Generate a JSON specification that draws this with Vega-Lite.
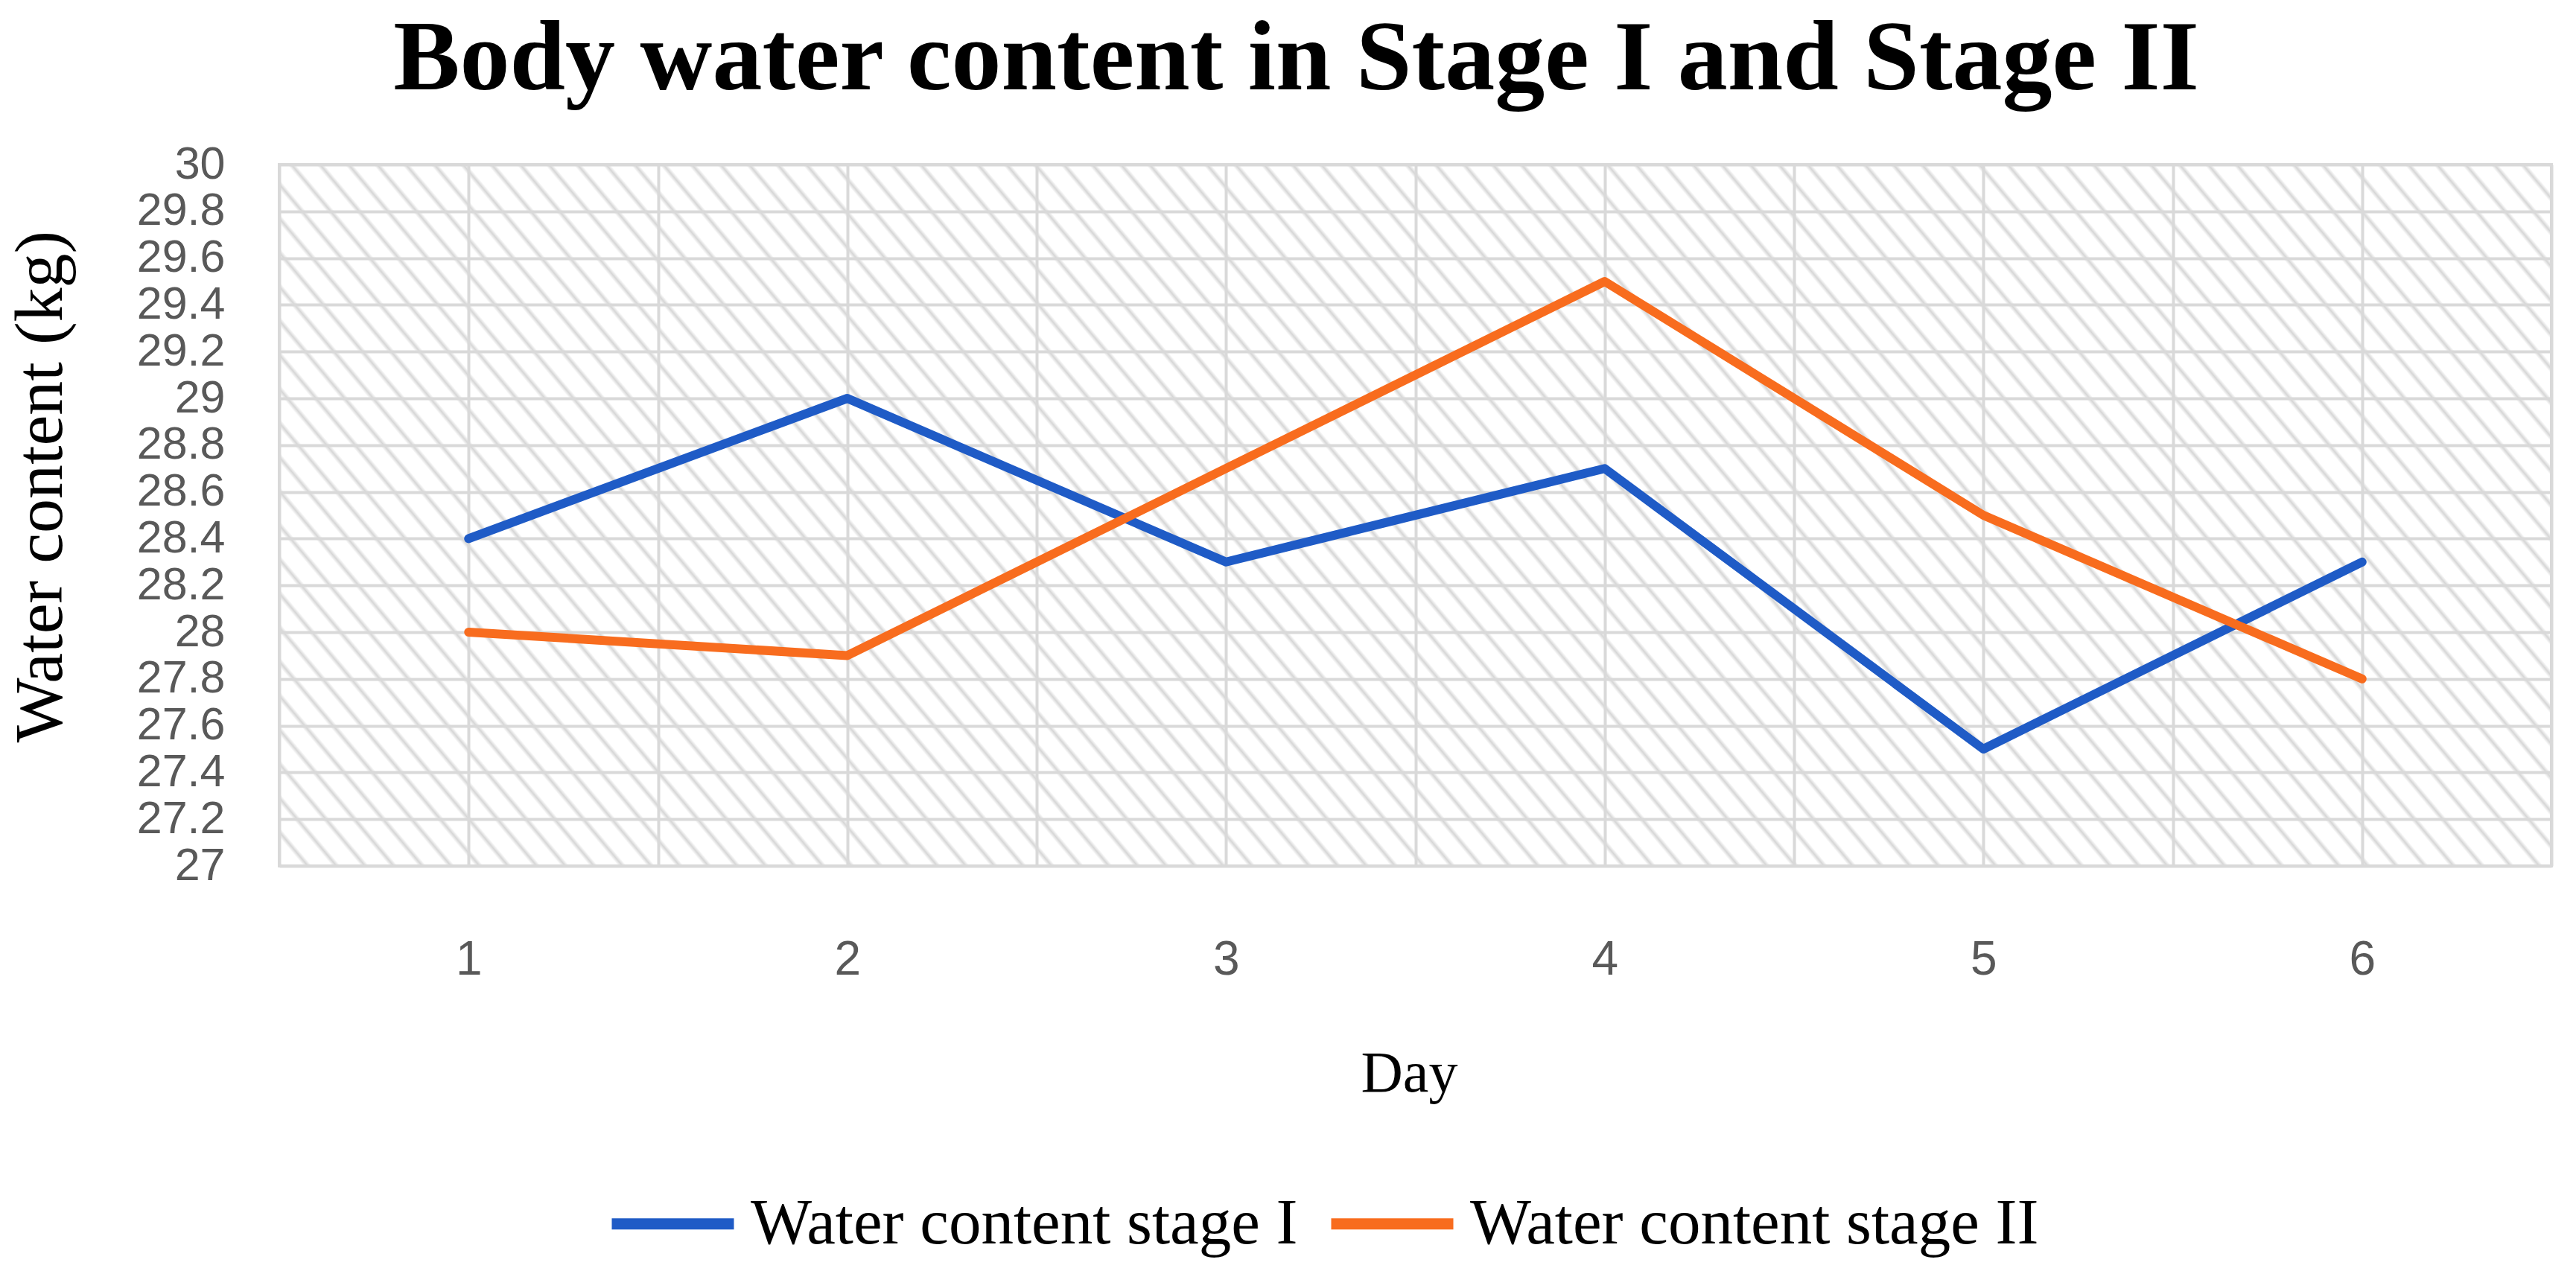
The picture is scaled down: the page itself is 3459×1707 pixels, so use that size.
{
  "$schema": "https://vega.github.io/schema/vega-lite/v6.json",
  "width": 3051,
  "height": 942,
  "autosize": {"type": "none"},
  "padding": {"left": 375, "top": 221, "right": 33, "bottom": 544},
  "background": "white",
  "title": {
    "text": "Body water content in Stage I and Stage II",
    "font": "Liberation Serif",
    "fontSize": 134,
    "fontWeight": "bold",
    "color": "black",
    "anchor": "middle",
    "frame": "group",
    "baseline": "alphabetic",
    "offset": -64,
    "dx": -160
  },
  "view": {
    "stroke": "#d9d9d9",
    "strokeWidth": 4,
    "fill": {
      "gradient": "linear",
      "x1": 0, "y1": 1, "x2": 1.17988, "y2": 0.69433,
      "stops": [
        {"offset":0,"color":"#d6d6d6"},{"offset":0.0015,"color":"#fff"},{"offset":0.0085,"color":"#fff"},
        {"offset":0.01,"color":"#d6d6d6"},{"offset":0.0115,"color":"#fff"},{"offset":0.0185,"color":"#fff"},
        {"offset":0.02,"color":"#d6d6d6"},{"offset":0.0215,"color":"#fff"},{"offset":0.0285,"color":"#fff"},
        {"offset":0.03,"color":"#d6d6d6"},{"offset":0.0315,"color":"#fff"},{"offset":0.0385,"color":"#fff"},
        {"offset":0.04,"color":"#d6d6d6"},{"offset":0.0415,"color":"#fff"},{"offset":0.0485,"color":"#fff"},
        {"offset":0.05,"color":"#d6d6d6"},{"offset":0.0515,"color":"#fff"},{"offset":0.0585,"color":"#fff"},
        {"offset":0.06,"color":"#d6d6d6"},{"offset":0.0615,"color":"#fff"},{"offset":0.0685,"color":"#fff"},
        {"offset":0.07,"color":"#d6d6d6"},{"offset":0.0715,"color":"#fff"},{"offset":0.0785,"color":"#fff"},
        {"offset":0.08,"color":"#d6d6d6"},{"offset":0.0815,"color":"#fff"},{"offset":0.0885,"color":"#fff"},
        {"offset":0.09,"color":"#d6d6d6"},{"offset":0.0915,"color":"#fff"},{"offset":0.0985,"color":"#fff"},
        {"offset":0.1,"color":"#d6d6d6"},{"offset":0.1015,"color":"#fff"},{"offset":0.1085,"color":"#fff"},
        {"offset":0.11,"color":"#d6d6d6"},{"offset":0.1115,"color":"#fff"},{"offset":0.1185,"color":"#fff"},
        {"offset":0.12,"color":"#d6d6d6"},{"offset":0.1215,"color":"#fff"},{"offset":0.1285,"color":"#fff"},
        {"offset":0.13,"color":"#d6d6d6"},{"offset":0.1315,"color":"#fff"},{"offset":0.1385,"color":"#fff"},
        {"offset":0.14,"color":"#d6d6d6"},{"offset":0.1415,"color":"#fff"},{"offset":0.1485,"color":"#fff"},
        {"offset":0.15,"color":"#d6d6d6"},{"offset":0.1515,"color":"#fff"},{"offset":0.1585,"color":"#fff"},
        {"offset":0.16,"color":"#d6d6d6"},{"offset":0.1615,"color":"#fff"},{"offset":0.1685,"color":"#fff"},
        {"offset":0.17,"color":"#d6d6d6"},{"offset":0.1715,"color":"#fff"},{"offset":0.1785,"color":"#fff"},
        {"offset":0.18,"color":"#d6d6d6"},{"offset":0.1815,"color":"#fff"},{"offset":0.1885,"color":"#fff"},
        {"offset":0.19,"color":"#d6d6d6"},{"offset":0.1915,"color":"#fff"},{"offset":0.1985,"color":"#fff"},
        {"offset":0.2,"color":"#d6d6d6"},{"offset":0.2015,"color":"#fff"},{"offset":0.2085,"color":"#fff"},
        {"offset":0.21,"color":"#d6d6d6"},{"offset":0.2115,"color":"#fff"},{"offset":0.2185,"color":"#fff"},
        {"offset":0.22,"color":"#d6d6d6"},{"offset":0.2215,"color":"#fff"},{"offset":0.2285,"color":"#fff"},
        {"offset":0.23,"color":"#d6d6d6"},{"offset":0.2315,"color":"#fff"},{"offset":0.2385,"color":"#fff"},
        {"offset":0.24,"color":"#d6d6d6"},{"offset":0.2415,"color":"#fff"},{"offset":0.2485,"color":"#fff"},
        {"offset":0.25,"color":"#d6d6d6"},{"offset":0.2515,"color":"#fff"},{"offset":0.2585,"color":"#fff"},
        {"offset":0.26,"color":"#d6d6d6"},{"offset":0.2615,"color":"#fff"},{"offset":0.2685,"color":"#fff"},
        {"offset":0.27,"color":"#d6d6d6"},{"offset":0.2715,"color":"#fff"},{"offset":0.2785,"color":"#fff"},
        {"offset":0.28,"color":"#d6d6d6"},{"offset":0.2815,"color":"#fff"},{"offset":0.2885,"color":"#fff"},
        {"offset":0.29,"color":"#d6d6d6"},{"offset":0.2915,"color":"#fff"},{"offset":0.2985,"color":"#fff"},
        {"offset":0.3,"color":"#d6d6d6"},{"offset":0.3015,"color":"#fff"},{"offset":0.3085,"color":"#fff"},
        {"offset":0.31,"color":"#d6d6d6"},{"offset":0.3115,"color":"#fff"},{"offset":0.3185,"color":"#fff"},
        {"offset":0.32,"color":"#d6d6d6"},{"offset":0.3215,"color":"#fff"},{"offset":0.3285,"color":"#fff"},
        {"offset":0.33,"color":"#d6d6d6"},{"offset":0.3315,"color":"#fff"},{"offset":0.3385,"color":"#fff"},
        {"offset":0.34,"color":"#d6d6d6"},{"offset":0.3415,"color":"#fff"},{"offset":0.3485,"color":"#fff"},
        {"offset":0.35,"color":"#d6d6d6"},{"offset":0.3515,"color":"#fff"},{"offset":0.3585,"color":"#fff"},
        {"offset":0.36,"color":"#d6d6d6"},{"offset":0.3615,"color":"#fff"},{"offset":0.3685,"color":"#fff"},
        {"offset":0.37,"color":"#d6d6d6"},{"offset":0.3715,"color":"#fff"},{"offset":0.3785,"color":"#fff"},
        {"offset":0.38,"color":"#d6d6d6"},{"offset":0.3815,"color":"#fff"},{"offset":0.3885,"color":"#fff"},
        {"offset":0.39,"color":"#d6d6d6"},{"offset":0.3915,"color":"#fff"},{"offset":0.3985,"color":"#fff"},
        {"offset":0.4,"color":"#d6d6d6"},{"offset":0.4015,"color":"#fff"},{"offset":0.4085,"color":"#fff"},
        {"offset":0.41,"color":"#d6d6d6"},{"offset":0.4115,"color":"#fff"},{"offset":0.4185,"color":"#fff"},
        {"offset":0.42,"color":"#d6d6d6"},{"offset":0.4215,"color":"#fff"},{"offset":0.4285,"color":"#fff"},
        {"offset":0.43,"color":"#d6d6d6"},{"offset":0.4315,"color":"#fff"},{"offset":0.4385,"color":"#fff"},
        {"offset":0.44,"color":"#d6d6d6"},{"offset":0.4415,"color":"#fff"},{"offset":0.4485,"color":"#fff"},
        {"offset":0.45,"color":"#d6d6d6"},{"offset":0.4515,"color":"#fff"},{"offset":0.4585,"color":"#fff"},
        {"offset":0.46,"color":"#d6d6d6"},{"offset":0.4615,"color":"#fff"},{"offset":0.4685,"color":"#fff"},
        {"offset":0.47,"color":"#d6d6d6"},{"offset":0.4715,"color":"#fff"},{"offset":0.4785,"color":"#fff"},
        {"offset":0.48,"color":"#d6d6d6"},{"offset":0.4815,"color":"#fff"},{"offset":0.4885,"color":"#fff"},
        {"offset":0.49,"color":"#d6d6d6"},{"offset":0.4915,"color":"#fff"},{"offset":0.4985,"color":"#fff"},
        {"offset":0.5,"color":"#d6d6d6"},{"offset":0.5015,"color":"#fff"},{"offset":0.5085,"color":"#fff"},
        {"offset":0.51,"color":"#d6d6d6"},{"offset":0.5115,"color":"#fff"},{"offset":0.5185,"color":"#fff"},
        {"offset":0.52,"color":"#d6d6d6"},{"offset":0.5215,"color":"#fff"},{"offset":0.5285,"color":"#fff"},
        {"offset":0.53,"color":"#d6d6d6"},{"offset":0.5315,"color":"#fff"},{"offset":0.5385,"color":"#fff"},
        {"offset":0.54,"color":"#d6d6d6"},{"offset":0.5415,"color":"#fff"},{"offset":0.5485,"color":"#fff"},
        {"offset":0.55,"color":"#d6d6d6"},{"offset":0.5515,"color":"#fff"},{"offset":0.5585,"color":"#fff"},
        {"offset":0.56,"color":"#d6d6d6"},{"offset":0.5615,"color":"#fff"},{"offset":0.5685,"color":"#fff"},
        {"offset":0.57,"color":"#d6d6d6"},{"offset":0.5715,"color":"#fff"},{"offset":0.5785,"color":"#fff"},
        {"offset":0.58,"color":"#d6d6d6"},{"offset":0.5815,"color":"#fff"},{"offset":0.5885,"color":"#fff"},
        {"offset":0.59,"color":"#d6d6d6"},{"offset":0.5915,"color":"#fff"},{"offset":0.5985,"color":"#fff"},
        {"offset":0.6,"color":"#d6d6d6"},{"offset":0.6015,"color":"#fff"},{"offset":0.6085,"color":"#fff"},
        {"offset":0.61,"color":"#d6d6d6"},{"offset":0.6115,"color":"#fff"},{"offset":0.6185,"color":"#fff"},
        {"offset":0.62,"color":"#d6d6d6"},{"offset":0.6215,"color":"#fff"},{"offset":0.6285,"color":"#fff"},
        {"offset":0.63,"color":"#d6d6d6"},{"offset":0.6315,"color":"#fff"},{"offset":0.6385,"color":"#fff"},
        {"offset":0.64,"color":"#d6d6d6"},{"offset":0.6415,"color":"#fff"},{"offset":0.6485,"color":"#fff"},
        {"offset":0.65,"color":"#d6d6d6"},{"offset":0.6515,"color":"#fff"},{"offset":0.6585,"color":"#fff"},
        {"offset":0.66,"color":"#d6d6d6"},{"offset":0.6615,"color":"#fff"},{"offset":0.6685,"color":"#fff"},
        {"offset":0.67,"color":"#d6d6d6"},{"offset":0.6715,"color":"#fff"},{"offset":0.6785,"color":"#fff"},
        {"offset":0.68,"color":"#d6d6d6"},{"offset":0.6815,"color":"#fff"},{"offset":0.6885,"color":"#fff"},
        {"offset":0.69,"color":"#d6d6d6"},{"offset":0.6915,"color":"#fff"},{"offset":0.6985,"color":"#fff"},
        {"offset":0.7,"color":"#d6d6d6"},{"offset":0.7015,"color":"#fff"},{"offset":0.7085,"color":"#fff"},
        {"offset":0.71,"color":"#d6d6d6"},{"offset":0.7115,"color":"#fff"},{"offset":0.7185,"color":"#fff"},
        {"offset":0.72,"color":"#d6d6d6"},{"offset":0.7215,"color":"#fff"},{"offset":0.7285,"color":"#fff"},
        {"offset":0.73,"color":"#d6d6d6"},{"offset":0.7315,"color":"#fff"},{"offset":0.7385,"color":"#fff"},
        {"offset":0.74,"color":"#d6d6d6"},{"offset":0.7415,"color":"#fff"},{"offset":0.7485,"color":"#fff"},
        {"offset":0.75,"color":"#d6d6d6"},{"offset":0.7515,"color":"#fff"},{"offset":0.7585,"color":"#fff"},
        {"offset":0.76,"color":"#d6d6d6"},{"offset":0.7615,"color":"#fff"},{"offset":0.7685,"color":"#fff"},
        {"offset":0.77,"color":"#d6d6d6"},{"offset":0.7715,"color":"#fff"},{"offset":0.7785,"color":"#fff"},
        {"offset":0.78,"color":"#d6d6d6"},{"offset":0.7815,"color":"#fff"},{"offset":0.7885,"color":"#fff"},
        {"offset":0.79,"color":"#d6d6d6"},{"offset":0.7915,"color":"#fff"},{"offset":0.7985,"color":"#fff"},
        {"offset":0.8,"color":"#d6d6d6"},{"offset":0.8015,"color":"#fff"},{"offset":0.8085,"color":"#fff"},
        {"offset":0.81,"color":"#d6d6d6"},{"offset":0.8115,"color":"#fff"},{"offset":0.8185,"color":"#fff"},
        {"offset":0.82,"color":"#d6d6d6"},{"offset":0.8215,"color":"#fff"},{"offset":0.8285,"color":"#fff"},
        {"offset":0.83,"color":"#d6d6d6"},{"offset":0.8315,"color":"#fff"},{"offset":0.8385,"color":"#fff"},
        {"offset":0.84,"color":"#d6d6d6"},{"offset":0.8415,"color":"#fff"},{"offset":0.8485,"color":"#fff"},
        {"offset":0.85,"color":"#d6d6d6"},{"offset":0.8515,"color":"#fff"},{"offset":0.8585,"color":"#fff"},
        {"offset":0.86,"color":"#d6d6d6"},{"offset":0.8615,"color":"#fff"},{"offset":0.8685,"color":"#fff"},
        {"offset":0.87,"color":"#d6d6d6"},{"offset":0.8715,"color":"#fff"},{"offset":0.8785,"color":"#fff"},
        {"offset":0.88,"color":"#d6d6d6"},{"offset":0.8815,"color":"#fff"},{"offset":0.8885,"color":"#fff"},
        {"offset":0.89,"color":"#d6d6d6"},{"offset":0.8915,"color":"#fff"},{"offset":0.8985,"color":"#fff"},
        {"offset":0.9,"color":"#d6d6d6"},{"offset":0.9015,"color":"#fff"},{"offset":0.9085,"color":"#fff"},
        {"offset":0.91,"color":"#d6d6d6"},{"offset":0.9115,"color":"#fff"},{"offset":0.9185,"color":"#fff"},
        {"offset":0.92,"color":"#d6d6d6"},{"offset":0.9215,"color":"#fff"},{"offset":0.9285,"color":"#fff"},
        {"offset":0.93,"color":"#d6d6d6"},{"offset":0.9315,"color":"#fff"},{"offset":0.9385,"color":"#fff"},
        {"offset":0.94,"color":"#d6d6d6"},{"offset":0.9415,"color":"#fff"},{"offset":0.9485,"color":"#fff"},
        {"offset":0.95,"color":"#d6d6d6"},{"offset":0.9515,"color":"#fff"},{"offset":0.9585,"color":"#fff"},
        {"offset":0.96,"color":"#d6d6d6"},{"offset":0.9615,"color":"#fff"},{"offset":0.9685,"color":"#fff"},
        {"offset":0.97,"color":"#d6d6d6"},{"offset":0.9715,"color":"#fff"},{"offset":0.9785,"color":"#fff"},
        {"offset":0.98,"color":"#d6d6d6"},{"offset":0.9815,"color":"#fff"},{"offset":0.9885,"color":"#fff"},
        {"offset":0.99,"color":"#d6d6d6"},{"offset":0.9915,"color":"#fff"},{"offset":0.9985,"color":"#fff"},
        {"offset":1,"color":"#d6d6d6"}
      ]
    }
  },
  "data": {
    "values": [
      {"Day": 1, "Series": "Water content stage I", "Water": 28.4},
      {"Day": 2, "Series": "Water content stage I", "Water": 29.0},
      {"Day": 3, "Series": "Water content stage I", "Water": 28.3},
      {"Day": 4, "Series": "Water content stage I", "Water": 28.7},
      {"Day": 5, "Series": "Water content stage I", "Water": 27.5},
      {"Day": 6, "Series": "Water content stage I", "Water": 28.3},
      {"Day": 1, "Series": "Water content stage II", "Water": 28.0},
      {"Day": 2, "Series": "Water content stage II", "Water": 27.9},
      {"Day": 3, "Series": "Water content stage II", "Water": 28.7},
      {"Day": 4, "Series": "Water content stage II", "Water": 29.5},
      {"Day": 5, "Series": "Water content stage II", "Water": 28.5},
      {"Day": 6, "Series": "Water content stage II", "Water": 27.8}
    ]
  },
  "mark": {"type": "line", "strokeWidth": 12, "strokeCap": "round", "strokeJoin": "round"},
  "encoding": {
    "x": {
      "field": "Day",
      "type": "quantitative",
      "scale": {"domain": [0.5, 6.5], "nice": false, "zero": false},
      "axis": {
        "title": "Day",
        "values": [0.5, 1, 1.5, 2, 2.5, 3, 3.5, 4, 4.5, 5, 5.5, 6, 6.5],
        "labelExpr": "datum.value % 1 === 0 ? format(datum.value, 'd') : ''",
        "labelPadding": 94,
        "titleX": 1517,
        "titleY": 302,
        "titleBaseline": "alphabetic",
        "titleFontSize": 78
      }
    },
    "y": {
      "field": "Water",
      "type": "quantitative",
      "scale": {"domain": [27, 30], "nice": false, "zero": false},
      "axis": {
        "title": "Water content (kg)",
        "values": [27, 27.2, 27.4, 27.6, 27.8, 28, 28.2, 28.4, 28.6, 28.8, 29, 29.2, 29.4, 29.6, 29.8, 30],
        "format": "~g",
        "labelOverlap": false,
        "labelFontSize": 61,
        "labelPadding": 73,
        "titleX": -293,
        "titleY": 432,
        "titleAlign": "center",
        "titleBaseline": "alphabetic",
        "titleFontSize": 92
      }
    },
    "color": {
      "field": "Series",
      "type": "nominal",
      "scale": {"domain": ["Water content stage I", "Water content stage II"], "range": ["#1F5BC6", "#F86C1E"]},
      "legend": {
        "orient": "none",
        "legendX": 439,
        "legendY": 1333,
        "direction": "horizontal",
        "title": null
      }
    }
  },
  "config": {
    "axis": {
      "domain": false,
      "ticks": false,
      "gridColor": "#d9d9d9",
      "gridWidth": 4,
      "labelFont": "Liberation Sans",
      "labelFontSize": 64,
      "labelColor": "#595959",
      "titleFont": "Liberation Serif",
      "titleFontWeight": "normal",
      "titleColor": "black"
    },
    "axisY": {"labelBaseline": "middle"},
    "legend": {
      "symbolType": "stroke",
      "symbolSize": 26896,
      "symbolStrokeWidth": 15,
      "labelFont": "Liberation Serif",
      "labelFontSize": 87,
      "labelColor": "black",
      "labelOffset": 15,
      "columnPadding": 14,
      "padding": 0,
      "labelLimit": 0
    }
  }
}
